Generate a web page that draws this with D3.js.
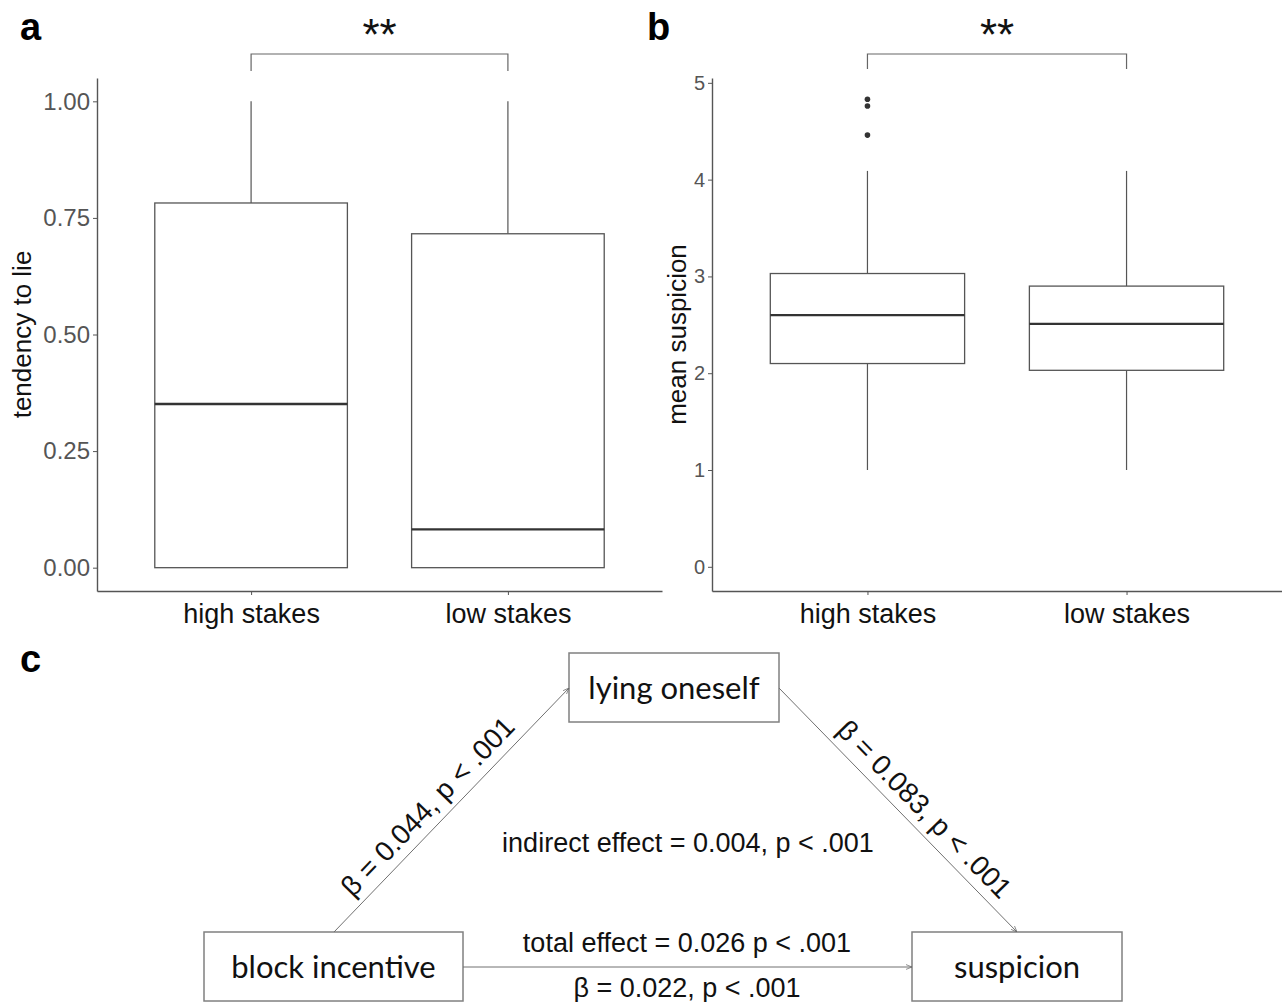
<!DOCTYPE html>
<html>
<head>
<meta charset="utf-8">
<script src="https://cdn.jsdelivr.net/npm/d3@7"></script>
<style>
  body { margin: 0; background: #fff; }
  svg { display: block; }
  text { font-family: "Liberation Sans", Arial, sans-serif; }
</style>
</head>
<body>
<div id="fig"></div>
<script>
// categories
var groups = ["high stakes", "low stakes"];

// panel a - tendency to lie (box stats per group)
var lieLower = [0, 0];
var lieQ1 = [0, 0];
var lieMedian = [0.351, 0.082];
var lieQ3 = [0.782, 0.716];
var lieUpper = [1, 1];
var lieTicks = [0, 0.25, 0.5, 0.75, 1];

// panel b - mean suspicion
var suspLower = [1.0, 1.0];
var suspQ1 = [2.10, 2.03];
var suspMedian = [2.60, 2.51];
var suspQ3 = [3.03, 2.90];
var suspUpper = [4.09, 4.09];
var suspOutliers = [[4.46, 4.76, 4.83], []];
var suspTicks = [0, 1, 2, 3, 4, 5];

// significance between the two groups
var sigLabel = "**";

// panel c - mediation model
var nodeNames = ["block incentive", "lying oneself", "suspicion"];
var pathLabels = ["\u03b2 = 0.044, p < .001", "\u03b2 = 0.083, p < .001"];
var directLabels = ["total effect = 0.026 p < .001", "\u03b2 = 0.022, p < .001"];
var indirectLabel = "indirect effect = 0.004, p < .001";

var W = 1282, H = 1002;
var svg = d3.select("#fig").append("svg")
    .attr("width", W)
    .attr("height", H);

svg.append("defs").append("marker")
    .attr("id", "arr")
    .attr("viewBox", "0 0 10 10")
    .attr("refX", 10).attr("refY", 5)
    .attr("markerWidth", 6).attr("markerHeight", 6)
    .attr("orient", "auto")
  .append("path")
    .attr("d", "M0,1 L10,5 L0,9")
    .attr("fill", "none")
    .attr("stroke", "#666")
    .attr("stroke-width", 1.2);

function boxPanel(o) {
  var x = d3.scalePoint().domain(groups).range([o.left, o.right]).padding(0.6);
  var y = d3.scaleLinear().domain(o.domain).range([o.bottom, o.top]);
  var bw = x.step() * 0.75;

  var g = svg.append("g");

  // y axis
  var yAxis = g.append("g")
      .attr("transform", "translate(" + o.left + ",0)")
      .call(d3.axisLeft(y).tickValues(o.ticks).tickFormat(o.fmt).tickSize(4).tickSizeOuter(0).tickPadding(3));
  yAxis.select(".domain").attr("stroke", "#555").attr("stroke-width", 1.4);
  yAxis.selectAll(".tick line").attr("stroke", "#555");
  yAxis.selectAll(".tick text")
      .attr("fill", "#555")
      .style("font-size", o.tickFont + "px");

  // x axis
  var xAxis = g.append("g")
      .attr("transform", "translate(0," + o.bottom + ")")
      .call(d3.axisBottom(x).tickSize(4).tickSizeOuter(0).tickPadding(9));
  xAxis.select(".domain").attr("stroke", "#555").attr("stroke-width", 1.4);
  xAxis.selectAll(".tick line").attr("stroke", "#555");
  xAxis.selectAll(".tick text")
      .attr("fill", "#111")
      .style("font-size", "27px");

  // axis title
  g.append("text")
      .attr("transform", "translate(" + o.titleX + "," + ((o.top + o.bottom) / 2) + ") rotate(-90)")
      .attr("text-anchor", "middle")
      .attr("fill", "#111")
      .style("font-size", o.titleFont + "px")
      .text(o.title);

  var idx = d3.range(groups.length);

  // whiskers
  g.selectAll(".wu").data(idx).enter().append("line")
      .attr("x1", function(i){ return x(groups[i]); })
      .attr("x2", function(i){ return x(groups[i]); })
      .attr("y1", function(i){ return y(o.q3[i]); })
      .attr("y2", function(i){ return y(o.upper[i]); })
      .attr("stroke", "#555").attr("stroke-width", 1.2);
  g.selectAll(".wl").data(idx).enter().append("line")
      .attr("x1", function(i){ return x(groups[i]); })
      .attr("x2", function(i){ return x(groups[i]); })
      .attr("y1", function(i){ return y(o.q1[i]); })
      .attr("y2", function(i){ return y(o.lower[i]); })
      .attr("stroke", "#555").attr("stroke-width", 1.2);

  // boxes
  g.selectAll(".bx").data(idx).enter().append("rect")
      .attr("x", function(i){ return x(groups[i]) - bw / 2; })
      .attr("width", bw)
      .attr("y", function(i){ return y(o.q3[i]); })
      .attr("height", function(i){ return y(o.q1[i]) - y(o.q3[i]); })
      .attr("fill", "#fff")
      .attr("stroke", "#555").attr("stroke-width", 1.3);

  // medians
  g.selectAll(".md").data(idx).enter().append("line")
      .attr("x1", function(i){ return x(groups[i]) - bw / 2; })
      .attr("x2", function(i){ return x(groups[i]) + bw / 2; })
      .attr("y1", function(i){ return y(o.med[i]); })
      .attr("y2", function(i){ return y(o.med[i]); })
      .attr("stroke", "#333").attr("stroke-width", 2.3);

  // outliers
  if (o.out) {
    idx.forEach(function(i){
      g.selectAll(".o" + i).data(o.out[i]).enter().append("circle")
          .attr("cx", x(groups[i]))
          .attr("cy", function(d){ return y(d); })
          .attr("r", 2.8)
          .attr("fill", "#333");
    });
  }

  // significance bracket
  var x0 = x(groups[0]), x1 = x(groups[1]);
  g.append("path")
      .attr("d", "M" + x0 + "," + o.brLow + "V" + o.brTop + "H" + x1 + "V" + o.brLow)
      .attr("fill", "none")
      .attr("stroke", "#666").attr("stroke-width", 1.2);
  g.append("text")
      .attr("x", (x0 + x1) / 2)
      .attr("y", o.brTop - 4)
      .attr("text-anchor", "middle")
      .attr("fill", "#111")
      .style("font-size", "44px")
      .text(sigLabel);

  // panel letter
  g.append("text")
      .attr("x", o.letterX).attr("y", 40)
      .style("font-size", "38px").style("font-weight", "bold")
      .text(o.letter);
}

boxPanel({
  left: 97, right: 662, top: 78, bottom: 591,
  domain: [-0.05, 1.05], ticks: lieTicks, fmt: d3.format(".2f"), tickFont: 24,
  lower: lieLower, q1: lieQ1, med: lieMedian, q3: lieQ3, upper: lieUpper,
  title: "tendency to lie", titleX: 31, titleFont: 26,
  brTop: 54, brLow: 71, letter: "a", letterX: 20
});

boxPanel({
  left: 712, right: 1282, top: 78, bottom: 591,
  domain: [-0.25, 5.05], ticks: suspTicks, fmt: d3.format("d"), tickFont: 20,
  lower: suspLower, q1: suspQ1, med: suspMedian, q3: suspQ3, upper: suspUpper, out: suspOutliers,
  title: "mean suspicion", titleX: 686, titleFont: 26,
  brTop: 54, brLow: 69, letter: "b", letterX: 647
});

// ---- panel c: mediation diagram ----
var c = svg.append("g");
c.append("text")
    .attr("x", 20).attr("y", 672)
    .style("font-size", "38px").style("font-weight", "bold")
    .text("c");

// node boxes (layout)
var nodeBox = [
  {x: 204, y: 932, w: 259, h: 69},
  {x: 569, y: 653, w: 210, h: 69},
  {x: 912, y: 932, w: 210, h: 69}
];

c.selectAll(".node").data(nodeBox).enter().append("rect")
    .attr("x", function(d){ return d.x; })
    .attr("y", function(d){ return d.y; })
    .attr("width", function(d){ return d.w; })
    .attr("height", function(d){ return d.h; })
    .attr("fill", "#fff")
    .attr("stroke", "#808080").attr("stroke-width", 1.5);

c.selectAll(".nlabel").data(nodeBox).enter().append("text")
    .attr("x", function(d){ return d.x + d.w / 2; })
    .attr("y", function(d){ return d.y + d.h / 2 + 11; })
    .attr("text-anchor", "middle")
    .style("font-family", "Lato, 'Open Sans', sans-serif")
    .style("font-size", "31px")
    .attr("fill", "#111")
    .text(function(d, i){ return nodeNames[i]; });

// arrows
var A = nodeBox[0], M = nodeBox[1], S = nodeBox[2];
var edges = [
  [A.x + 130, A.y, M.x, M.y + 35],
  [M.x + M.w, M.y + 35, S.x + 105, S.y],
  [A.x + A.w, A.y + 35, S.x, S.y + 35]
];
c.selectAll(".edge").data(edges).enter().append("line")
    .attr("x1", function(d){ return d[0]; })
    .attr("y1", function(d){ return d[1]; })
    .attr("x2", function(d){ return d[2]; })
    .attr("y2", function(d){ return d[3]; })
    .attr("stroke", "#707070").attr("stroke-width", 1)
    .attr("marker-end", "url(#arr)");

// labels on the slanted paths
var labelShift = [-14, 18];
[0, 1].forEach(function(i){
  var e = edges[i];
  var mx = (e[0] + e[2]) / 2, my = (e[1] + e[3]) / 2;
  var ang = Math.atan2(e[3] - e[1], e[2] - e[0]) * 180 / Math.PI;
  c.append("text")
      .attr("transform", "translate(" + mx + "," + my + ") rotate(" + ang + ") translate(" + labelShift[i] + ",-10)")
      .attr("text-anchor", "middle")
      .attr("fill", "#111")
      .style("font-size", "28px")
      .text(pathLabels[i]);
});

c.append("text")
    .attr("x", 688).attr("y", 852)
    .attr("text-anchor", "middle")
    .attr("fill", "#111")
    .style("font-size", "27px")
    .text(indirectLabel);

c.append("text")
    .attr("x", 687).attr("y", 952)
    .attr("text-anchor", "middle")
    .attr("fill", "#111")
    .style("font-size", "27px")
    .text(directLabels[0]);

c.append("text")
    .attr("x", 687).attr("y", 997)
    .attr("text-anchor", "middle")
    .attr("fill", "#111")
    .style("font-size", "27px")
    .text(directLabels[1]);
</script>
</body>
</html>
